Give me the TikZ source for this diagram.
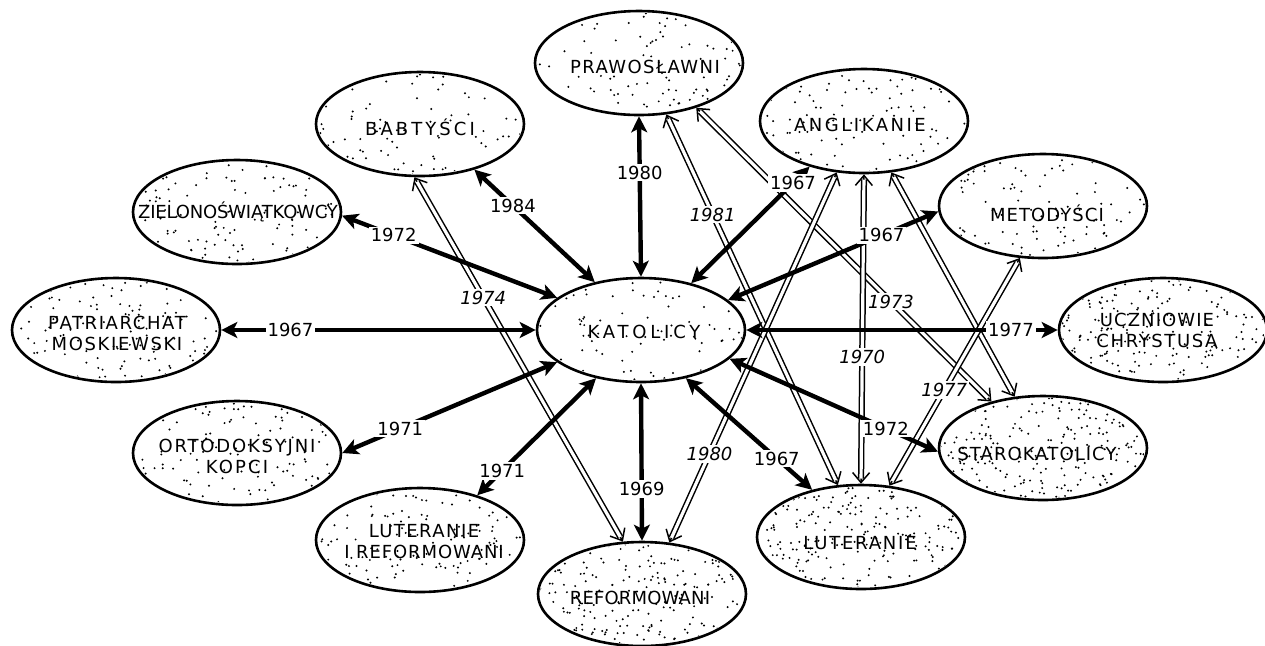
\documentclass[tikz,border=0pt]{standalone}
\usepackage{fontspec}
\setmainfont{DejaVu Sans}
\usetikzlibrary{arrows.meta,calc,shapes.geometric}

\newcommand{\ls}[2]{{\addfontfeature{LetterSpace=#1}#2}}
\newcommand{\stip}[3]{%
  \begin{scope}
    \clip (#1.center) ellipse [x radius=51pt, y radius=25pt];
    \pgfmathsetseed{#3}
    \foreach \i in {1,...,#2}{\fill ($(#1.center)+({rand*104},{rand*52})$) circle[radius=0.55pt];}
  \end{scope}}

\tikzset{
  ell/.style={ellipse, draw, line width=1.3pt, minimum width=104pt, minimum height=52pt, inner sep=0pt},
  ttl/.style={font=\fontsize{9}{10.5}\selectfont, align=center, inner sep=0pt},
  boldarrow/.style={line width=2.2pt, {Stealth[length=8pt,width=8pt,inset=2pt]}-{Stealth[length=8pt,width=8pt,inset=2pt]}},
  dbl/.style={line width=0.75pt, {Straight Barb[length=5pt,width=8.5pt]}-{Straight Barb[length=5pt,width=8.5pt]},
    postaction={draw, -, double, double distance=1.6pt, line width=0.75pt, shorten <=2.6pt, shorten >=2.6pt}},
  yr/.style={fill=white, inner sep=1pt, font=\fontsize{9}{10}\selectfont},
  yri/.style={fill=white, inner sep=1pt, font=\fontsize{9}{10}\selectfont\itshape},
}

\begin{document}
\begin{tikzpicture}[x=0.5pt,y=-0.5pt]
\fill[white] (0,0) rectangle (1265,645);
\useasboundingbox (0,0) rectangle (1265,645);

% ellipses
\node[ell] (praw)    at (639,63)   {};
\node[ell] (bab)     at (420,124)  {};
\node[ell] (angl)    at (864,121)  {};
\node[ell] (ziel)    at (237,212)  {};
\node[ell] (metod)   at (1043,206) {};
\node[ell] (patr)    at (116,330)  {};
\node[ell] (kat)     at (641,330)  {};
\node[ell] (ucz)     at (1163,330) {};
\node[ell] (ort)     at (237,453)  {};
\node[ell] (staro)   at (1043,448) {};
\node[ell] (lutiref) at (420,540)  {};
\node[ell] (lut)     at (861,537)  {};
\node[ell] (ref)     at (642,594)  {};

% stippling
\stip{praw}{100}{11}
\stip{bab}{100}{12}
\stip{angl}{115}{13}
\stip{ziel}{135}{14}
\stip{metod}{120}{15}
\stip{patr}{145}{16}
\stip{kat}{95}{17}
\stip{ucz}{210}{18}
\stip{ort}{135}{19}
\stip{staro}{250}{20}
\stip{lutiref}{150}{21}
\stip{lut}{250}{22}
\stip{ref}{225}{23}

% texts
\node[ttl] (prawT)    at (645,67)   {\ls{8}{PRAWOSŁAWNI}};
\node[ttl] (babT)     at (420,127)  {\ls{17}{BABTYŚCI}};
\node[ttl] (anglT)    at (860,125)  {\ls{14}{ANGLIKANIE}};
\node[ttl] (zielT)    at (238,212)  {\ls{-1}{ZIELONOŚWIĄTKOWCY}};
\node[ttl] (metodT)   at (1047,213) {\ls{6}{METODYŚCI}};
\node[ttl] (patrT)    at (117,333)  {\ls{9}{PATRIARCHAT}\\\ls{9}{MOSKIEWSKI}};
\node[ttl] (katT)     at (644,332)  {\ls{21}{KATOLICY}};
\node[ttl] (uczT)     at (1157,330) {\ls{6}{UCZNIOWIE}\\\ls{9}{CHRYSTUSA}};
\node[ttl] (ortT)     at (237,456)  {\ls{10}{ORTODOKSYJNI}\\\ls{12}{KOPCI}};
\node[ttl] (staroT)   at (1037,454) {\ls{6}{STAROKATOLICY}};
\node[ttl] (lutirefT) at (424,542)  {\ls{8}{LUTERANIE}\\\ls{5}{I REFORMOWANI}};
\node[ttl] (lutT)     at (860,543)  {\ls{10}{LUTERANIE}};
\node[ttl] (refT)     at (640,598)  {\ls{1}{REFORMOWANI}};

% double connectors
\draw[dbl] (bab.-96) -- node[yri,pos=0.33]{1974} (ref.110);
\draw[dbl] (praw.-62) -- node[yri,pos=0.27]{1981} (lut.114);
\draw[dbl] (praw.-38) -- node[yri,pos=0.66]{1973} (staro.138);
\draw[dbl] (angl.south) -- node[yri,pos=0.59]{1970} (lut.north);
\draw[dbl] (angl.242) -- node[yri,pos=0.76]{1980} (ref.62);
\draw[dbl] (angl.-62) -- (staro.119);
\draw[dbl] (metod.246) -- node[yri,pos=0.58]{1977} (lut.61);

% bold connectors
\draw[boldarrow] (kat.134) -- node[yr,pos=0.68]{1984} (bab.-40);
\draw[boldarrow] (kat.159) -- node[yr,pos=0.76]{1972} (ziel.-2);
\draw[boldarrow] (kat.west) -- node[yr,pos=0.78]{1967} (patr.east);
\draw[boldarrow] (kat.201) -- node[yr,pos=0.73]{1971} (ort.0);
\draw[boldarrow] (kat.227) -- node[yr,pos=0.79]{1971} (lutiref.38);
\draw[boldarrow] (kat.south) -- node[yr,pos=0.67]{1969} (ref.north);
\draw[boldarrow] (kat.north) -- node[yr,pos=0.65]{1980} (praw.south);
\draw[boldarrow] (kat.43) -- node[yr,pos=0.86]{1967} (angl.220);
\draw[boldarrow] (kat.19) -- node[yr,pos=0.73]{1967} (metod.183);
\draw[boldarrow] (kat.east) -- node[yr,pos=0.85]{1977} (ucz.west);
\draw[boldarrow] (kat.-18) -- node[yr,pos=0.75]{1972} (staro.182);
\draw[boldarrow] (kat.-47) -- node[yr,pos=0.72]{1967} (lut.136);
\end{tikzpicture}
\end{document}
